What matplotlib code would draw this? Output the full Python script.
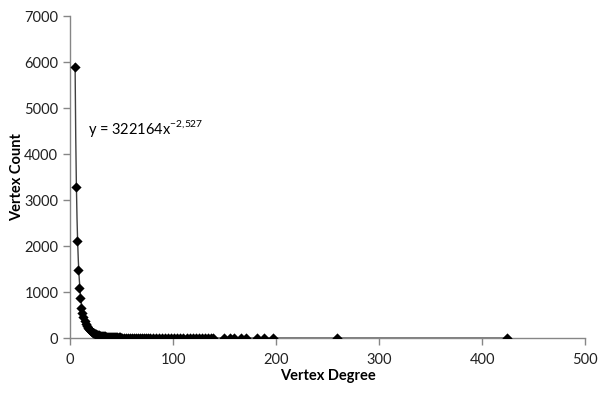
import numpy as np
import matplotlib
matplotlib.use("Agg")
from matplotlib import pyplot as plt

plt.rcParams['font.family'] = ['Lato', 'DejaVu Sans']

# vertex degree -> number of vertices with that degree
degree = [5, 6, 7, 8, 9, 10, 11, 12, 13, 14, 15, 16, 17, 18, 19, 20, 21, 22, 23, 24,
          25, 26, 27, 28, 29, 30, 31, 32, 33, 34, 35, 36, 37, 38, 39, 40,
          41, 42, 43, 44, 45, 46, 47, 48, 49, 50, 52, 54, 56, 58, 60, 62, 64, 66, 68,
          70, 72, 74, 76, 78, 80, 83, 86, 89, 92, 95, 98, 101, 104, 107, 110, 113,
          116, 119, 122, 125, 128, 131, 134, 137, 139, 149, 155, 159, 166, 171, 181,
          188, 197, 259, 424]
count = [5900, 3280, 2120, 1490, 1080, 870, 660, 540, 450, 370, 310, 265, 225, 195,
         170, 148, 130, 115, 102, 91, 82, 74, 67, 61, 55, 50, 46, 42, 39, 36, 33, 30,
         28, 26, 24, 22,
         20, 19, 18, 17, 16, 15, 14, 13, 12, 12, 11, 10, 9, 8, 8, 7, 7, 6, 6,
         5, 5, 5, 4, 4, 4, 4, 3, 3, 3, 3, 2, 2, 2, 2, 2, 2,
         2, 1, 1, 1, 1, 1, 1, 1, 1, 1, 1, 1, 1, 1, 1,
         1, 1, 1, 1]

# power trendline shown on the chart
coef = 322164
expo = -2.527
trend_label = r'y = 322164x$^{\mathregular{-2{,}527}}$'

gray = '#868686'

fig = plt.figure(figsize=(5.99, 3.94), dpi=100)
ax = fig.add_axes([0.117, 0.142, 0.86, 0.817])

xt = np.linspace(4.85, max(degree), 2000)
ax.plot(xt, coef * xt ** expo, color='#404040', lw=1.0, zorder=2)
ax.scatter(degree, count, marker='D', s=27, color='black', zorder=3, linewidths=0)

ax.set_xlim(0, 500)
ax.set_ylim(0, 7000)
ax.set_xticks(range(0, 501, 100))
ax.set_yticks(range(0, 7001, 1000))

for s in ['top', 'right']:
    ax.spines[s].set_visible(False)
for s in ['left', 'bottom']:
    ax.spines[s].set_color(gray)
    ax.spines[s].set_linewidth(1.0)
ax.tick_params(axis='both', colors=gray, length=5, width=1.0, labelsize=10.5,
               labelcolor='#222222', direction='out')
ax.tick_params(axis='x', pad=6)

ax.set_xlabel('Vertex Degree', fontsize=10.5, fontweight='bold', labelpad=1)
ax.set_ylabel('Vertex Count', fontsize=10.5, fontweight='bold', labelpad=0)

ax.text(17, 4560, trend_label, fontsize=10.5, va='center', ha='left')

fig.savefig('out.png', dpi=100)
